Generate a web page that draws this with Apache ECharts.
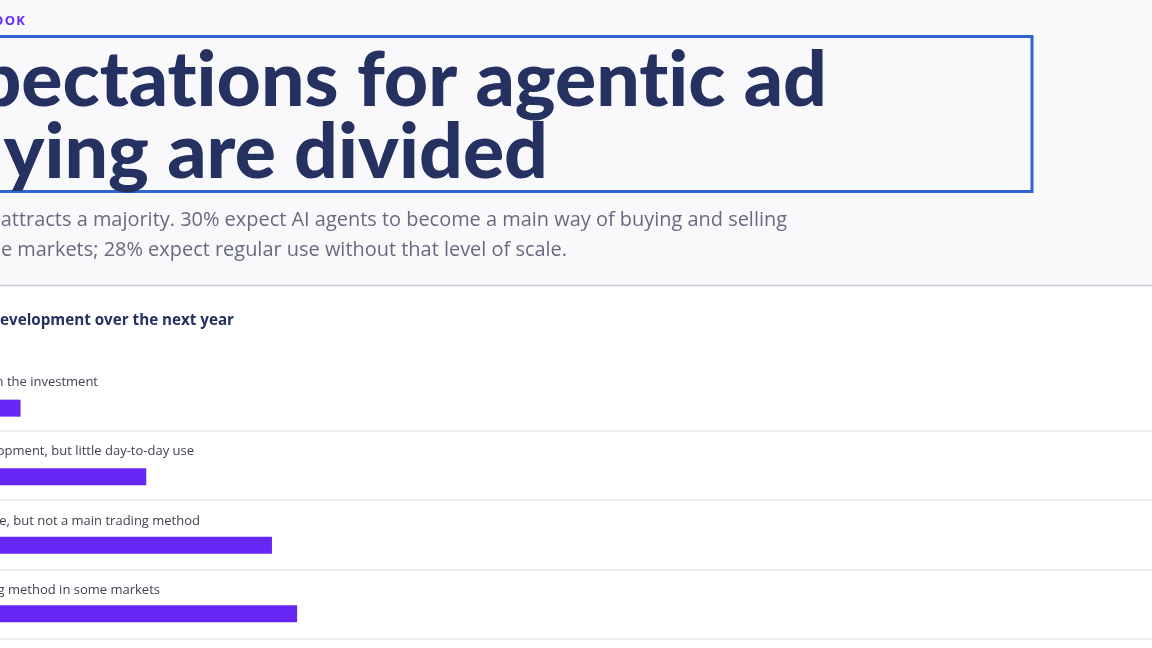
<!DOCTYPE html>
<html><head><meta charset="utf-8">
<script src="https://cdn.jsdelivr.net/npm/echarts@6/dist/echarts.min.js"></script>
<style>html,body{margin:0;padding:0;background:#fff}#c{width:1152px;height:648px}</style>
</head><body><div id="c"></div>
<script>
// ---- data (visible text of the cropped reference) ----
const kicker = 'OUTLOOK';
const titleLines = ['Expectat\u200Cions for agent\u200Cic ad', 'buying are divided'];
const subtitleLines = [
  'attracts a majority. 30% expect AI agents to become a main way of buying and selling',
  'e markets; 28% expect regular use without that level of scale.'
];
const chartTitle = 'evelopment over the next year';
const categories = [
  'n the investment',
  'opment, but little day-to-day use',
  'e, but not a main trading method',
  'g method in some markets'
];
const values = [8, 18, 28, 30];

// ---- layout ----
const labelEnds = [98, 194, 200, 160];
const NAVY = '#253160', PURPLE = '#6627f5';
const TITLE_FONT = 'Lato', BODY_FONT = '"Open Sans"';
const PX_PER_PCT = 12.57, ZERO_X = -80;   // the page is scrolled: the bars' zero lies off-canvas
const axisMin = -ZERO_X / PX_PER_PCT;
const axisMax = axisMin + 1152 / PX_PER_PCT;

const cv = document.createElement('canvas').getContext('2d');
function fit(text, weight, family, target) {
  cv.font = weight + ' 100px ' + family;
  return 100 * target / cv.measureText(text).width;
}
const titleSize1 = fit('pectat\u200Cions for agent\u200Cic ad', 900, TITLE_FONT, 838);
const titleSize2 = fit('ying are divided', 900, TITLE_FONT, 552);
const titleSize = (titleSize1 + titleSize2) / 2;
const subSize = fit(subtitleLines[0], 400, BODY_FONT, 787);

const gridTop = 361.4, band = 69.3;
const graphics = [
  { type: 'rect', shape: { x: 0, y: 0, width: 1152, height: 285 }, style: { fill: '#f9f9fc' } },
  { type: 'line', shape: { x1: 0, y1: 285.5, x2: 1152, y2: 285.5 }, style: { stroke: '#c7c9d8', lineWidth: 1.5 } },
  { type: 'text', x: 25, y: 21.5, style: { text: kicker.split('').join('\u200A'), fill: '#6a2cf2', fontSize: 13, fontWeight: 'bold', fontFamily: BODY_FONT, align: 'right', verticalAlign: 'middle' } },
  { type: 'rect', shape: { x: -10, y: 36.5, width: 1042, height: 155 }, style: { fill: 'none', stroke: '#2f63cf', lineWidth: 3 } },
  { type: 'text', x: 827, y: 81, style: { text: titleLines[0], fill: NAVY, fontSize: titleSize, fontWeight: 900, fontFamily: TITLE_FONT, align: 'right', verticalAlign: 'middle' } },
  { type: 'text', x: 548, y: 153, style: { text: titleLines[1], fill: NAVY, fontSize: titleSize, fontWeight: 900, fontFamily: TITLE_FONT, align: 'right', verticalAlign: 'middle' } },
  { type: 'text', x: 787, y: 220, style: { text: subtitleLines[0], fill: '#676a7e', fontSize: subSize, fontFamily: BODY_FONT, align: 'right', verticalAlign: 'middle' } },
  { type: 'text', x: 567, y: 250, style: { text: subtitleLines[1], fill: '#676a7e', fontSize: subSize, fontFamily: BODY_FONT, align: 'right', verticalAlign: 'middle' } },
  { type: 'text', x: 234, y: 321, style: { text: chartTitle, fill: NAVY, fontSize: 15.2, fontWeight: 700, fontFamily: BODY_FONT, align: 'right', verticalAlign: 'middle' } }
];
categories.forEach((c, i) => {
  graphics.push({ type: 'text', x: labelEnds[i], y: gridTop + band * i + 21, style: { text: c, fill: '#404252', fontSize: 13, fontFamily: BODY_FONT, align: 'right', verticalAlign: 'middle' } });
});

const chart = echarts.init(document.getElementById('c'), null, { renderer: 'canvas' });
chart.setOption({
  backgroundColor: '#ffffff',
  animation: false,
  grid: [
    { left: 0, right: 0, top: gridTop + 12.5, height: band * 4 },
    { left: 0, right: 0, top: gridTop, height: band * 4 }
  ],
  xAxis: [
    { gridIndex: 0, type: 'value', min: axisMin, max: axisMax, show: false },
    { gridIndex: 1, type: 'value', min: 0, max: 1, show: false }
  ],
  yAxis: [
    { gridIndex: 0, type: 'category', data: categories, inverse: true, show: false },
    { gridIndex: 1, type: 'category', data: categories, inverse: true,
      axisLine: { show: false }, axisTick: { show: false }, axisLabel: { show: false },
      splitLine: { show: true, showMinLine: false, showMaxLine: true, lineStyle: { color: '#e3e4ef', width: 1.5 } } }
  ],
  series: [{
    type: 'bar', xAxisIndex: 0, yAxisIndex: 0, data: values, barWidth: 17,
    itemStyle: { color: PURPLE }, silent: true
  }],
  graphic: graphics
});
</script>
</body></html>
